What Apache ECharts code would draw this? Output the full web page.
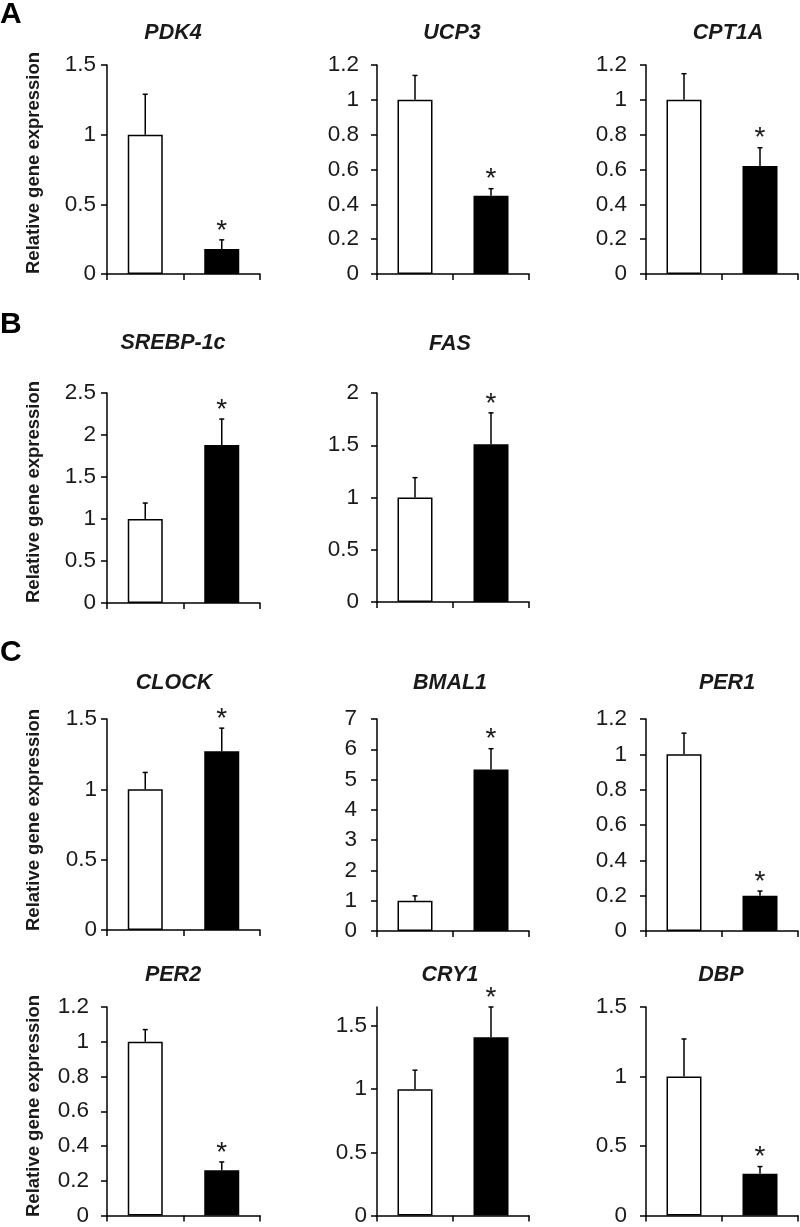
<!DOCTYPE html>
<html>
<head>
<meta charset="utf-8">
<script src="https://cdn.jsdelivr.net/npm/echarts@6/dist/echarts.min.js"></script>
<style>
html,body{margin:0;padding:0;background:#fff;}
#chart{width:800px;height:1227px;}
</style>
</head>
<body>
<div id="chart"></div>
<script>
// ---------- data ----------
const genes = ['PDK4', 'UCP3', 'CPT1A', 'SREBP-1c', 'FAS', 'CLOCK', 'BMAL1', 'PER1', 'PER2', 'CRY1', 'DBP'];
const groups = ['Control', 'Treated'];
const controlMean = [1, 1, 1, 1, 1, 1, 1, 1, 1, 1, 1];
const controlErr  = [0.29, 0.14, 0.15, 0.19, 0.19, 0.12, 0.16, 0.12, 0.07, 0.15, 0.27];
const treatedMean = [0.18, 0.45, 0.62, 1.88, 1.51, 1.27, 5.33, 0.20, 0.26, 1.41, 0.30];
const treatedErr  = [0.065, 0.04, 0.105, 0.31, 0.30, 0.165, 0.69, 0.026, 0.048, 0.24, 0.052];
const treatedSignificant = [true, true, true, true, true, true, true, true, true, true, true];
const yMax      = [1.5, 1.2, 1.2, 2.5, 2, 1.5, 7, 1.2, 1.2, 1.65, 1.5];
const yInterval = [0.5, 0.2, 0.2, 0.5, 0.5, 0.5, 1, 0.2, 0.2, 0.5, 0.5];
const yTickValues = [
  [0, 0.5, 1, 1.5],
  [0, 0.2, 0.4, 0.6, 0.8, 1, 1.2],
  [0, 0.2, 0.4, 0.6, 0.8, 1, 1.2],
  [0, 0.5, 1, 1.5, 2, 2.5],
  [0, 0.5, 1, 1.5, 2],
  [0, 0.5, 1, 1.5],
  [0, 1, 2, 3, 4, 5, 6, 7],
  [0, 0.2, 0.4, 0.6, 0.8, 1, 1.2],
  [0, 0.2, 0.4, 0.6, 0.8, 1, 1.2],
  [0, 0.5, 1, 1.5],
  [0, 0.5, 1, 1.5]
];
const panelLetters = ['A', 'B', 'C'];
const yAxisTitle = 'Relative gene expression';

// ---------- layout (positions / styles) ----------
// [left, top, width, height, labelMargin, titleX, titleY]
const layout = [
  [107, 65, 153, 209, 11, 173, 33],
  [377, 65, 152, 209, 18, 452, 33],
  [646, 65, 152, 209, 19, 728, 33],
  [107, 393, 153, 210, 11, 173, 343],
  [377, 393, 152, 209, 18, 450, 344],
  [107, 719, 153, 211, 10, 174, 683],
  [377, 719, 152, 212, 20, 450, 683],
  [646, 719, 152, 212, 19, 727, 683],
  [107, 1007, 153, 210, 18, 173, 975],
  [377, 1007, 152, 210, 10, 450, 975],
  [646, 1007, 152, 210, 19, 721, 975]
];
const letterPos = [[0, 15], [0, 325], [0, 653]];
const yTitleRows = [[34, 274], [34, 603], [34, 931], [34, 1217]];

const FONT = '"Liberation Sans", Arial, Helvetica, sans-serif';
const INK = '#1a1a1a';
const AXIS_W = 1.5;

const grids = [], xAxes = [], yAxes = [], series = [], graphics = [];

genes.forEach((g, i) => {
  const L = layout[i];
  grids.push({ left: L[0], top: L[1], width: L[2], height: L[3], containLabel: false });
  xAxes.push({
    type: 'category', gridIndex: i, data: groups,
    axisLine: { show: true, lineStyle: { color: '#000', width: AXIS_W } },
    axisTick: { show: true, length: 6, lineStyle: { color: '#000', width: AXIS_W } },
    axisLabel: { show: false },
    splitLine: { show: false }
  });
  yAxes.push({
    type: 'value', gridIndex: i, min: 0, max: yMax[i], interval: yInterval[i],
    axisLine: { show: true, lineStyle: { color: '#000', width: AXIS_W } },
    axisTick: { show: true, length: 6, lineStyle: { color: '#000', width: AXIS_W }, customValues: yTickValues[i] },
    axisLabel: { show: true, fontSize: 22.5, fontFamily: FONT, color: INK, margin: L[4], customValues: yTickValues[i] },
    splitLine: { show: false }
  });
  series.push({
    type: 'bar', xAxisIndex: i, yAxisIndex: i, barWidth: 35, silent: true, animation: false,
    data: [
      { value: controlMean[i], itemStyle: { color: '#fff', borderColor: '#000', borderWidth: 1.5 } },
      { value: treatedMean[i], itemStyle: { color: '#000', borderColor: '#000', borderWidth: 1.5 } }
    ]
  });
  series.push({
    type: 'custom', xAxisIndex: i, yAxisIndex: i, silent: true, animation: false, clip: false,
    data: [
      [0, controlMean[i], controlErr[i], 0],
      [1, treatedMean[i], treatedErr[i], treatedSignificant[i] ? 1 : 0]
    ],
    renderItem: function (params, api) {
      const cat = api.value(0), m = api.value(1), e = api.value(2), sig = api.value(3);
      const p0 = api.coord([cat, m]);
      const p1 = api.coord([cat, m + e]);
      const children = [
        { type: 'line', shape: { x1: p0[0], y1: p0[1], x2: p1[0], y2: p1[1] }, style: { stroke: '#000', lineWidth: 1.5 } },
        { type: 'line', shape: { x1: p1[0] - 2.5, y1: p1[1], x2: p1[0] + 2.5, y2: p1[1] }, style: { stroke: '#000', lineWidth: 1.5 } }
      ];
      if (sig) {
        children.push({
          type: 'text', x: p1[0], y: p1[1] - 9,
          style: { text: '*', fontSize: 28, fontFamily: FONT, fill: INK, align: 'center', verticalAlign: 'middle' }
        });
      }
      return { type: 'group', children: children };
    }
  });
  graphics.push({
    type: 'text', x: L[5], y: L[6],
    style: { text: g, fontSize: 21.5, fontWeight: 'bold', fontStyle: 'italic', fontFamily: FONT, fill: INK, align: 'center', verticalAlign: 'middle' }
  });
});

panelLetters.forEach((t, k) => {
  graphics.push({
    type: 'text', x: letterPos[k][0], y: letterPos[k][1],
    style: { text: t, fontSize: 30, fontWeight: 'bold', fontFamily: FONT, fill: '#000', align: 'left', verticalAlign: 'middle' }
  });
});

yTitleRows.forEach(r => {
  graphics.push({
    type: 'text', x: r[0], y: r[1], rotation: Math.PI / 2,
    style: { text: yAxisTitle, fontSize: 18.5, fontWeight: 'bold', fontFamily: FONT, fill: INK, align: 'left', verticalAlign: 'middle' }
  });
});

const chart = echarts.init(document.getElementById('chart'), null, { renderer: 'canvas' });
chart.setOption({
  animation: false,
  backgroundColor: '#fff',
  grid: grids,
  xAxis: xAxes,
  yAxis: yAxes,
  series: series,
  graphic: graphics
});
</script>
</body>
</html>
